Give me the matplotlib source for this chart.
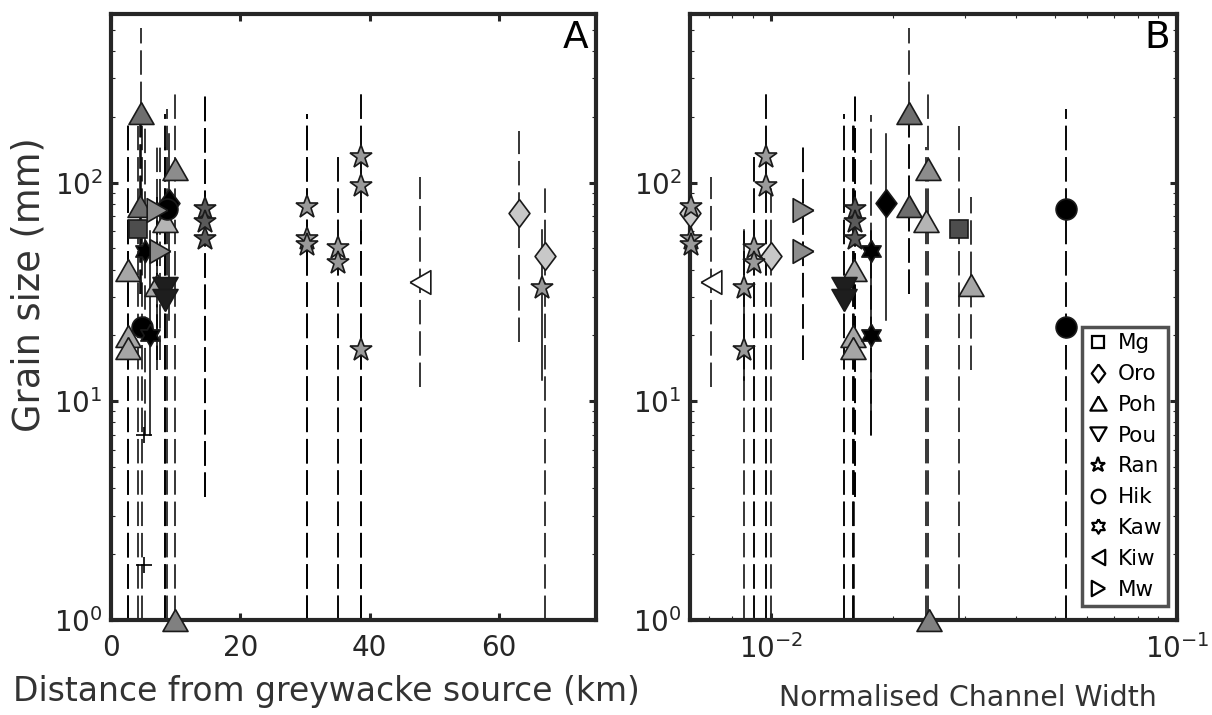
import numpy as np
import matplotlib.pyplot as plt
from matplotlib.lines import Line2D

# one entry per sample: river, distance (km), normalised width, grain size (mm), error range
river = ['Poh', 'Poh', 'Poh', 'Poh', 'Poh', 'Poh', 'Poh', 'Poh', 'Poh',
         'Pou', 'Pou', 'Mg', 'Oro', 'Oro', 'Oro', 'Hik', 'Hik', 'Kaw', 'Kaw',
         'Kiw', 'Mw', 'Mw',
         'Ran', 'Ran', 'Ran', 'Ran', 'Ran', 'Ran', 'Ran', 'Ran', 'Ran', 'Ran', 'Ran', 'Ran']
dist_km = [4.6, 9.9, 4.5, 8.35, 2.7, 7.1, 2.7, 2.7, 9.9,
           8.3, 8.3, 4.25, 8.9, 63.1, 67.2, 8.7, 4.8, 5.3, 6.05,
           47.8, 7.1, 7.6,
           14.6, 14.6, 14.6, 30.3, 30.3, 30.3, 35.1, 35.1, 38.6, 38.6, 38.6, 66.7]
width_norm = [0.0219, 0.0243, 0.0219, 0.0240, 0.0160, 0.0311, 0.0159, 0.0159, 0.0244,
              0.0151, 0.0151, 0.0290, 0.0192, 0.00631, 0.0100, 0.0534, 0.0534, 0.0176, 0.0176,
              0.0071, 0.0120, 0.0120,
              0.0161, 0.0161, 0.0161, 0.00632, 0.00632, 0.00632, 0.00908, 0.00908,
              0.0097, 0.0097, 0.00858, 0.00858]
grain_mm = [209, 115, 78.5, 66.5, 39.7, 33.9, 19.8, 17.5, 1.0,
            33, 29, 61.5, 81, 72.4, 46, 76, 21.8, 48.5, 20,
            35.1, 75, 48.5,
            76, 66, 55.5, 77.1, 55.3, 51.6, 50, 42.7, 130.5, 96.9, 17.2, 33]
err_lo = [31, 1, 31, 1, 1, 13.9, 1, 1, None,
          1, 1, 1, 23.5, 18.7, 1, 1, 1, 7.0, 7.0,
          11.6, 15.4, 15.4,
          3.64, 3.64, 3.64, 1, 1, 1, 1, 1, 1, 1, 1, 12.5]
err_hi = [510, 272, 200, 145, 188, 85.7, 188, 188, None,
          206, 206, 182, 167, 172.8, 96.9, 218, 218, 203, 60,
          105.7, 155, 155,
          249, 249, 249, 206, 206, 206, 135.6, 135.6, 272, 272, 60, 60.4]
err_solid = [0, 0, 0, 0, 0, 0, 0, 0, 0,
             0, 0, 0, 1, 0, 0, 0, 0, 0, 1,
             0, 0, 0,
             0, 0, 0, 0, 0, 0, 0, 0, 0, 0, 0, 1]
shade = ['#6e6e6e', '#8c8c8c', '#6e6e6e', '#b4b4b4', '#a6a6a6', '#a6a6a6', '#a6a6a6', '#a6a6a6', '#808080',
         '#1e1e1e', '#1e1e1e', '#4d4d4d', '#000000', '#c8c8c8', '#c8c8c8', '#000000', '#000000', '#000000', '#000000',
         '#ffffff', '#8c8c8c', '#8c8c8c',
         '#5a5a5a', '#5a5a5a', '#5a5a5a', '#9a9a9a', '#9a9a9a', '#9a9a9a', '#9a9a9a', '#9a9a9a',
         '#9a9a9a', '#9a9a9a', '#9a9a9a', '#9a9a9a']
cap_dist = [5.03, 5.03]
cap_mm = [7.0, 1.78]

legend_names = ['Mg', 'Oro', 'Poh', 'Pou', 'Ran', 'Hik', 'Kaw', 'Kiw', 'Mw']

# marker shapes (MATLAB style)
h = 0.875
tri_up = [(0, h), (-1, -h), (1, -h), (0, h)]
tri_dn = [(0, -h), (-1, h), (1, h), (0, -h)]
tri_l = [(-h, 0), (h, 1), (h, -1), (-h, 0)]
tri_r = [(h, 0), (-h, 1), (-h, -1), (h, 0)]
diam = [(0, 1), (0.75, 0), (0, -1), (-0.75, 0), (0, 1)]
ang = np.pi / 2 + np.arange(12) * np.pi / 6
rad = np.where(np.arange(12) % 2 == 0, 1.0, 0.577)
hexa = list(zip(rad * np.cos(ang), rad * np.sin(ang)))
hexa.append(hexa[0])

mk = {'Mg': ('s', 12.5), 'Oro': (diam, 20), 'Poh': (tri_up, 18), 'Pou': (tri_dn, 18),
      'Ran': ('*', 17), 'Hik': ('o', 15), 'Kaw': (hexa, 16), 'Kiw': (tri_l, 17), 'Mw': (tri_r, 17)}

axc = '#262626'
plt.rcParams['font.family'] = 'DejaVu Sans'
fig = plt.figure(figsize=(12.12, 7.15), dpi=100)
axA = fig.add_axes([0.0916, 0.1329, 0.400, 0.8475])
axB = fig.add_axes([0.5693, 0.1329, 0.4018, 0.8475])


def draw(ax, xs):
    for i in range(len(grain_mm)):
        if err_lo[i] is None:
            continue
        if err_solid[i]:
            ax.plot([xs[i], xs[i]], [err_lo[i], err_hi[i]], color='k', lw=1.1, zorder=1)
        else:
            ax.plot([xs[i], xs[i]], [err_lo[i], err_hi[i]], color='k', lw=1.1,
                    ls='--', dashes=(16, 4.5), zorder=1)
    for i in range(len(grain_mm)):
        m, s = mk[river[i]]
        ax.plot(xs[i], grain_mm[i], marker=m, ms=s, mfc=shade[i], mec='#1a1a1a',
                mew=1.2, ls='none', zorder=3 + i * 0.01, clip_on=False)


draw(axA, dist_km)
axA.plot(cap_dist, cap_mm, marker='+', ms=12, mew=1.2, color='k', ls='none', zorder=2)
draw(axB, width_norm)

for ax in (axA, axB):
    ax.set_yscale('log')
    ax.set_ylim(1, 590)
    ax.set_yticks([1, 10, 100])
    ax.set_yticklabels(['$10^{0}$', '$10^{1}$', '$10^{2}$'])
    for sp in ax.spines.values():
        sp.set_linewidth(3)
        sp.set_color(axc)
    ax.tick_params(which='major', direction='in', top=True, right=True, length=5,
                   width=2.2, colors=axc, labelsize=20, pad=6)
    ax.tick_params(which='minor', direction='in', top=True, right=True, length=3,
                   width=0.8, colors=axc)
    ax.tick_params(axis='x', which='major', pad=10)

axA.set_xlim(0, 75)
axA.set_xticks([0, 20, 40, 60])
axA.yaxis.set_minor_locator(plt.matplotlib.ticker.LogLocator(base=10, subs=np.arange(2, 10)))
axA.xaxis.set_minor_locator(plt.NullLocator())
axA.set_xlabel('Distance from greywacke source (km)', fontsize=23.8, color='#333333')
axA.set_ylabel('Grain size (mm)', fontsize=26.5, color='#333333')
axA.yaxis.set_label_coords(-0.13, 0.553)
axA.xaxis.set_label_coords(0.445, -0.09)
axA.text(0.985, 0.99, 'A', transform=axA.transAxes, ha='right', va='top', fontsize=27, color='k')

axB.set_xscale('log')
axB.set_xlim(0.0063, 0.1)
axB.set_xticks([0.01, 0.1])
axB.set_xticklabels(['$10^{-2}$', '$10^{-1}$'])
axB.set_xlabel('Normalised Channel Width', fontsize=20.4, color='#333333')
axB.xaxis.set_label_coords(0.57, -0.105)
axB.text(0.985, 0.99, 'B', transform=axB.transAxes, ha='right', va='top', fontsize=27, color='k')

handles = []
for name in legend_names:
    m, s = mk[name]
    handles.append(Line2D([], [], marker=m, ms=s * 0.65, mfc='white', mec='k', mew=1.6, ls='none'))
leg = axB.legend(handles, legend_names, loc='upper left', bbox_to_anchor=(0.8927, 0.5427),
                 bbox_transform=fig.transFigure, fontsize=15.5, frameon=True, fancybox=False,
                 handlelength=0.9, handletextpad=0.45, labelspacing=0.5, borderpad=0.3,
                 borderaxespad=0)
leg.get_frame().set_edgecolor(axc)
leg.get_frame().set_linewidth(2.5)
leg.set_zorder(10)

plt.savefig('out.png', dpi=100)
